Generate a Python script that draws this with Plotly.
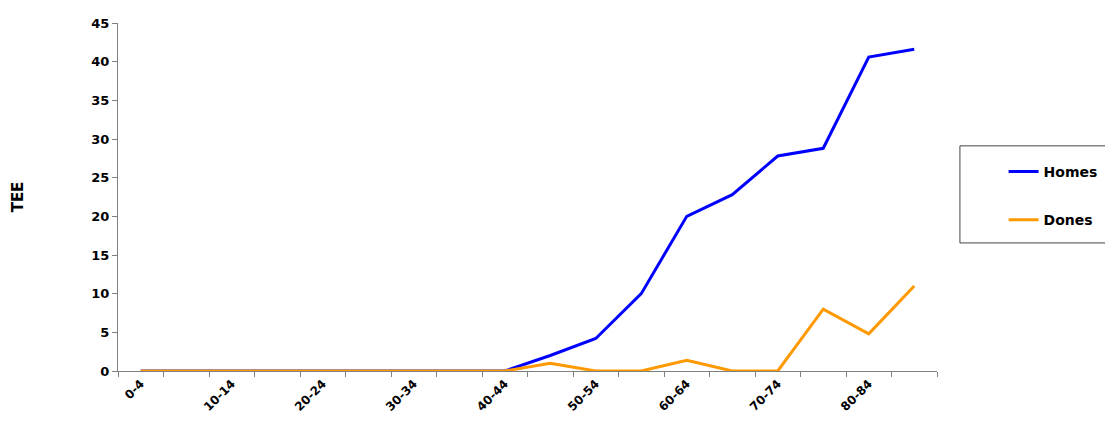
import plotly.graph_objects as go

age_groups = ["0-4", "5-9", "10-14", "15-19", "20-24", "25-29", "30-34", "35-39",
              "40-44", "45-49", "50-54", "55-59", "60-64", "65-69", "70-74",
              "75-79", "80-84", "85+"]
homes = [0, 0, 0, 0, 0, 0, 0, 0, 0, 2.0, 4.2, 10.0, 20.0, 22.8, 27.8, 28.8, 40.6, 41.6]
dones = [0, 0, 0, 0, 0, 0, 0, 0, 0, 1.0, 0, 0, 1.4, 0, 0, 8.0, 4.8, 11.0]

# only every other age group gets a label, like the original
tick_text = [f"<b>{g}</b>" if i % 2 == 0 else "" for i, g in enumerate(age_groups)]

FAM = "DejaVu Sans, sans-serif"

fig = go.Figure()
fig.add_trace(go.Scatter(x=age_groups, y=homes, name="<b>Homes</b>", mode="lines",
                         line=dict(color="#0000FF", width=3), legendgroup="a"))
fig.add_trace(go.Scatter(x=age_groups, y=dones, name="<b>Dones</b>", mode="lines",
                         line=dict(color="#FF9900", width=3), legendgroup="b"))

# legend frame: open on the right because it runs off the page in the original
frame = dict(type="line", xref="paper", yref="paper", line=dict(color="#444", width=1))
shapes = [
    dict(frame, x0=1.028, x1=1.028, y0=0.368, y1=0.647),
    dict(frame, x0=1.028, x1=1.6, y0=0.647, y1=0.647),
    dict(frame, x0=1.028, x1=1.6, y0=0.368, y1=0.368),
]

# page body has an 8px margin, so the figure is a bit smaller than the window
fig.update_layout(
    width=1105, height=414,
    margin=dict(l=110, r=175, t=15, b=51),
    plot_bgcolor="white", paper_bgcolor="white",
    font=dict(family=FAM, size=13, color="black"),
    legend=dict(x=1.08, y=0.618, xanchor="left", yanchor="top",
                borderwidth=0, tracegroupgap=27, bgcolor="rgba(0,0,0,0)",
                font=dict(family=FAM, size=14, color="black")),
    shapes=shapes,
)
fig.update_xaxes(
    type="category", tickvals=age_groups, ticktext=tick_text, tickangle=-45,
    range=[-0.5, len(age_groups) - 0.5], automargin=False,
    tickson="boundaries", ticks="outside", ticklen=5, tickcolor="#808080",
    showline=True, linecolor="#808080", showgrid=False,
    tickfont=dict(size=12),
)
fig.update_yaxes(
    range=[0, 45], dtick=5, ticks="outside", ticklen=5, tickcolor="#808080",
    showline=True, linecolor="#808080", showgrid=False, zeroline=False,
    tickprefix="<b>", ticksuffix="</b>", automargin=False,
    title=dict(text="<b>TEE</b>", standoff=64, font=dict(size=15)),
    tickfont=dict(size=13),
)

fig.write_html("out.html")
